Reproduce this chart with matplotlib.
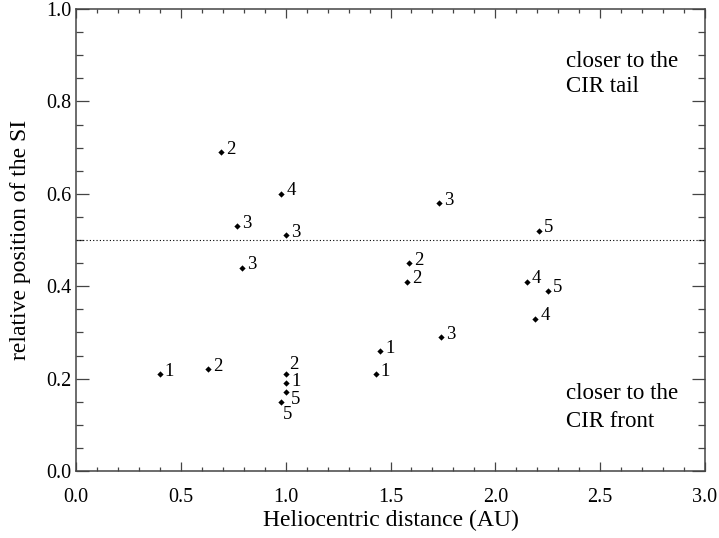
import matplotlib
matplotlib.use('Agg')
from matplotlib import pyplot as plt
from matplotlib.ticker import MultipleLocator

plt.rcParams['font.family'] = ['Liberation Serif', 'DejaVu Serif']
plt.rcParams['font.size'] = 14

# heliocentric distance (AU), relative SI position, event label
dist = [0.40, 0.63, 0.69, 0.77, 0.79, 0.98, 1.00, 1.00, 1.00, 1.00, 0.98,
        1.43, 1.45, 1.58, 1.59, 1.73, 1.74, 2.15, 2.19, 2.21, 2.25]
pos = [0.21, 0.22, 0.69, 0.53, 0.44, 0.60, 0.51, 0.21, 0.19, 0.17, 0.15,
       0.21, 0.26, 0.41, 0.45, 0.58, 0.29, 0.41, 0.33, 0.52, 0.39]
labels = ['1', '2', '2', '3', '3', '4', '3', '2', '1', '5', '5',
          '1', '1', '2', '2', '3', '3', '4', '4', '5', '5']

# label offsets in points (default to upper right), a few shifted by hand
default_off = (3.6, -1.2)
special_off = {7: (2.7, 3.6), 8: (3.9, -1.7), 9: (4.1, -8.0), 10: (1.0, -12.3)}

fig = plt.figure(figsize=(7.19, 5.38), dpi=100)
ax = fig.add_axes([76/719, 67/538, 629/719, 462/538])

ax.plot(dist, pos, 'D', color='black', markersize=3.2, markeredgewidth=0)
for i, (x, y, lab) in enumerate(zip(dist, pos, labels)):
    off = special_off.get(i, default_off)
    ax.annotate(lab, (x, y), xytext=off, textcoords='offset points',
                ha='left', va='baseline', fontsize=13.5)

ax.axhline(0.5, color='black', lw=0.8, ls=(0, (1, 2)))

ax.text(2.337, 0.875, 'closer to the', fontsize=16.5, va='baseline')
ax.text(2.337, 0.821, 'CIR tail', fontsize=16.5, va='baseline')
ax.text(2.337, 0.155, 'closer to the', fontsize=16.5, va='baseline')
ax.text(2.337, 0.096, 'CIR front', fontsize=16.5, va='baseline')

ax.set_xlim(0, 3.0)
ax.set_ylim(0, 1.0)
ax.xaxis.set_major_locator(MultipleLocator(0.5))
ax.xaxis.set_minor_locator(MultipleLocator(0.1))
ax.yaxis.set_major_locator(MultipleLocator(0.2))
ax.yaxis.set_minor_locator(MultipleLocator(0.05))
ax.xaxis.set_major_formatter('{x:.1f}')
ax.yaxis.set_major_formatter('{x:.1f}')

ax.tick_params(axis='both', which='both', direction='in', top=True, right=True,
               color='#444444', width=0.9, labelsize=14.5)
ax.tick_params(axis='x', which='major', length=6.5, pad=12)
ax.tick_params(axis='x', which='minor', length=3.2)
ax.tick_params(axis='y', which='major', length=9.4, pad=3)
ax.tick_params(axis='y', which='minor', length=4.7)
fig.canvas.draw()
ylabs = ax.get_yticklabels()
ylabs[0].set_verticalalignment('bottom')
ylabs[-1].set_verticalalignment('top')
for s in ax.spines.values():
    s.set_color('#444444')
    s.set_linewidth(1.1)

ax.set_xlabel('Heliocentric distance (AU)', fontsize=17, labelpad=2)
ax.set_ylabel('relative position of the SI', fontsize=17, labelpad=11)

fig.savefig('out.png', dpi=100)
